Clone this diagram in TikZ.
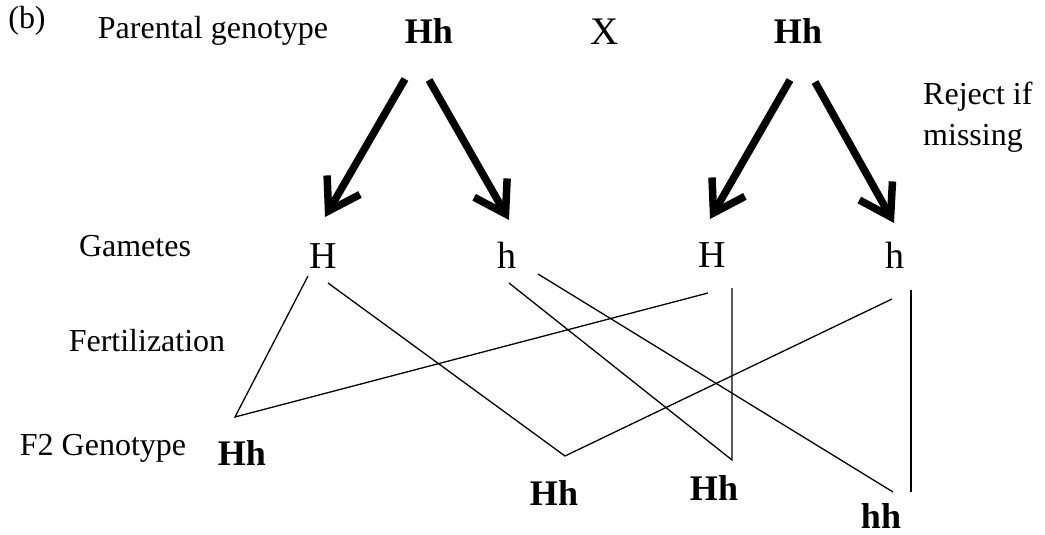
\documentclass[tikz,border=0pt]{standalone}
\usepackage{fontspec}
\setmainfont{Liberation Serif}
\usetikzlibrary{arrows.meta,calc}
\begin{document}
\begin{tikzpicture}[x=1pt,y=-1pt,
  lbl/.style={font=\fontsize{32}{40}\selectfont, inner sep=0pt, anchor=base},
  geno/.style={font=\fontsize{36}{40}\selectfont\bfseries, inner sep=0pt, anchor=base},
  gam/.style={font=\fontsize{38}{40}\selectfont, inner sep=0pt, anchor=base},
  bigarrow/.style={line width=7.5pt, -{Straight Barb[length=30pt,width=38pt]}},
  link/.style={line width=1.3pt}]
\useasboundingbox (0,0) rectangle (1045,535);
% labels
\node[lbl] (b) at (27,29) {(b)};
\node[lbl] (parlbl) at (213,39) {Parental genotype};
\node[lbl] (gamlbl) at (135,256) {Gametes};
\node[lbl] (ferlbl) at (147,351) {Fertilization};
\node[lbl] (f2lbl) at (103,455) {F2 Genotype};
\node[lbl, anchor=base west] (rej) at (923,104) {Reject if};
\node[lbl, anchor=base west] (miss) at (923,146) {missing};
% parents
\node[geno] (p1) at (429,44) {Hh};
\node[lbl, font=\fontsize{39}{40}\selectfont] (x) at (605,45) {X};
\node[geno] (p2) at (798,44) {Hh};
% gametes
\node[gam] (g1) at (323,268) {H};
\node[gam] (g2) at (507,268) {h};
\node[gam] (g3) at (712,267) {H};
\node[gam] (g4) at (895,268) {h};
% F2
\node[geno] (f1) at (242,465) {Hh};
\node[geno] (f2) at (554,505) {Hh};
\node[geno] (f3) at (714,500) {Hh};
\node[geno] (f4) at (881,528) {hh};
% arrow end points
\coordinate (a1s) at (405,79);  \coordinate (a1e) at (325,217);
\coordinate (a2s) at (429,80);  \coordinate (a2e) at (509,220);
\coordinate (a3s) at (790,80);  \coordinate (a3e) at (710,219);
\coordinate (a4s) at (815,82);  \coordinate (a4e) at (894,223);
\draw[bigarrow] (a1s) -- (a1e);
\draw[bigarrow] (a2s) -- (a2e);
\draw[bigarrow] (a3s) -- (a3e);
\draw[bigarrow] (a4s) -- (a4e);
% connector points
\coordinate (g1a) at (308,276);
\coordinate (g1b) at (328,283);
\coordinate (g2a) at (509,283);
\coordinate (g2b) at (538,274);
\coordinate (g3a) at (708,293);
\coordinate (g3b) at (732,288);
\coordinate (g4a) at (892,299);
\coordinate (g4b) at (911,290);
\coordinate (v1) at (235,417);
\coordinate (v2) at (565,456);
\coordinate (v3) at (732,460);
\coordinate (v4) at (893,492);
\coordinate (v4b) at (911,492);
\draw[link] (g1a) -- (v1) -- (g3a);
\draw[link] (g1b) -- (v2) -- (g4a);
\draw[link] (g2a) -- (v3) -- (g3b);
\draw[link] (g2b) -- (v4);
\draw[link] (g4b) -- (v4b);
\end{tikzpicture}
\end{document}
